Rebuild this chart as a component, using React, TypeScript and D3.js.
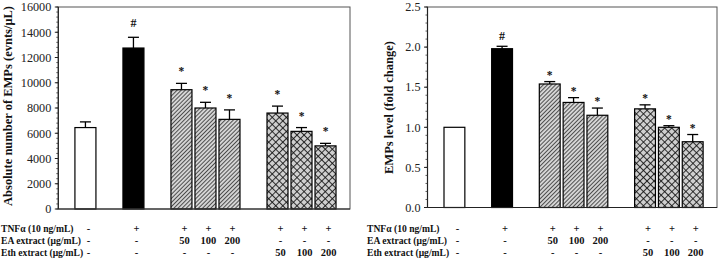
import React from 'react';
import * as d3 from 'd3';

const groupSizes = [1, 1, 3, 3];
const countValues = [6450, 12750, 9450, 8000, 7100, 7600, 6150, 5000];
const countErrors = [450, 850, 500, 450, 750, 550, 300, 200];
const foldValues = [1.0, 1.98, 1.54, 1.31, 1.15, 1.23, 1.0, 0.82];
const foldErrors = [0, 0.03, 0.03, 0.06, 0.09, 0.05, 0.02, 0.09];
const marks = ['', '#', '*', '*', '*', '*', '*', '*'];
const fills = ['white', 'black', 'hatch', 'hatch', 'hatch', 'cross', 'cross', 'cross'];
const rowLabels = ['TNFα (10 ng/mL)', 'EA extract (μg/mL)', 'Eth extract (μg/mL)'];
const tnfRow = ['-', '+', '+', '+', '+', '+', '+', '+'];
const eaRow = ['-', '-', '50', '100', '200', '-', '-', '-'];
const ethRow = ['-', '-', '-', '-', '-', '50', '100', '200'];
const countTicks = [0, 2000, 4000, 6000, 8000, 10000, 12000, 14000, 16000];
const foldTicks = [0, 0.5, 1.0, 1.5, 2.0, 2.5];

// slot positions: bars in a group are adjacent, one empty slot between groups
const slots: number[] = [];
{
  let s = 0;
  groupSizes.forEach((g) => {
    for (let i = 0; i < g; i++) slots.push(s++);
    s++;
  });
}

const SERIF = '"Liberation Serif", "Times New Roman", serif';

function fillFor(f: string) {
  if (f === 'hatch') return `url(#hatch)`;
  if (f === 'cross') return `url(#cross)`;
  return f;
}

type PanelProps = {
  values: number[];
  errors: number[];
  ticks: number[];
  minorStep: number;
  fmt: (v: number) => string;
  xRange: [number, number];
  yRange: [number, number];
  title: string;
  titleX: number;
  titleY: number;
  tableX: number;
  starOff: number;
  hashOff: number;
};

function Panel(p: PanelProps) {
  const yMax = p.ticks[p.ticks.length - 1];
  const x = d3.scaleLinear().domain([-1.13, 11.02]).range(p.xRange);
  const y = d3.scaleLinear().domain([0, yMax]).range(p.yRange);
  const bw = x(0.875) - x(0);
  const minor = d3.range(0, yMax + p.minorStep / 2, p.minorStep);
  const [x0, x1] = p.xRange;
  const [yb, yt] = p.yRange;
  const rows = [tnfRow, eaRow, ethRow];
  const rowY = [231.5, 243.5, 255.5];
  return (
    <g>
      {p.values.map((v, i) => {
        const cx = x(slots[i]);
        const e = p.errors[i];
        const topY = y(v + e);
        const isHash = marks[i] === '#';
        return (
          <g key={i}>
            {e > 0 && (
              <g stroke="#000" strokeWidth={1.3}>
                <line x1={cx} x2={cx} y1={y(v)} y2={topY} />
                <line x1={cx - 5.5} x2={cx + 5.5} y1={topY} y2={topY} />
              </g>
            )}
            <rect
              x={cx - bw / 2}
              y={y(v)}
              width={bw}
              height={y(0) - y(v)}
              fill={fillFor(fills[i])}
              stroke="#000"
              strokeWidth={1.2}
            />
            {marks[i] && (
              <text
                x={cx}
                y={topY - (isHash ? p.hashOff : p.starOff)}
                textAnchor="middle"
                fontFamily={SERIF}
                fontWeight="bold"
                fontSize={isHash ? 12 : 11.5}
                fill="#111"
              >
                {marks[i]}
              </text>
            )}
          </g>
        );
      })}
      <rect x={x0} y={yt} width={x1 - x0} height={yb - yt} fill="none" stroke="#555" strokeWidth={1} />
      <line x1={x0} x2={x0} y1={yt} y2={yb} stroke="#222" strokeWidth={1.2} />
      <line x1={x0} x2={x1} y1={yb} y2={yb} stroke="#222" strokeWidth={1.2} />
      {minor.map((t, i) => (
        <line key={'m' + i} x1={x0 - 2} x2={x0} y1={y(t)} y2={y(t)} stroke="#333" strokeWidth={0.8} />
      ))}
      {p.ticks.map((t, i) => (
        <g key={'t' + i}>
          <line x1={x0 - 3.5} x2={x0} y1={y(t)} y2={y(t)} stroke="#222" strokeWidth={1} />
          <text
            x={x0 - 7}
            y={y(t)}
            dy="0.35em"
            textAnchor="end"
            fontFamily={SERIF}
            fontSize={12.2}
            fill="#222"
          >
            {p.fmt(t)}
          </text>
        </g>
      ))}
      <text
        transform={`translate(${p.titleX},${p.titleY}) rotate(-90)`}
        textAnchor="middle"
        dy="0.35em"
        fontFamily={SERIF}
        fontWeight="bold"
        fontSize={12.5}
        fill="#111"
      >
        {p.title}
      </text>
      {rows.map((row, r) => (
        <g key={'r' + r} fontFamily={SERIF} fontWeight="bold" fontSize={9.6} fill="#111">
          <text x={p.tableX} y={rowY[r]}>
            {rowLabels[r]}
          </text>
          {row.map((s, i) => (
            <text key={i} x={x(slots[i]) + 3} y={rowY[r]} textAnchor="middle" fontSize={10.5}>
              {s}
            </text>
          ))}
        </g>
      ))}
    </g>
  );
}

export default function App() {
  return (
    <svg
      width={720}
      height={259}
      style={{ position: 'absolute', left: 0, top: 0, background: '#fff' }}
    >
      <defs>
        <pattern id="hatch" patternUnits="userSpaceOnUse" width={2.9} height={2.9} patternTransform="rotate(45)">
          <rect width={2.9} height={2.9} fill="#d4d4d4" />
          <line x1={0} y1={0} x2={0} y2={2.9} stroke="#111" strokeWidth={1.35} />
        </pattern>
        <pattern id="cross" patternUnits="userSpaceOnUse" width={5} height={5} patternTransform="rotate(45)">
          <rect width={5} height={5} fill="#cfcfcf" />
          <line x1={0} y1={0} x2={0} y2={5} stroke="#111" strokeWidth={1.7} />
          <line x1={0} y1={0} x2={5} y2={0} stroke="#111" strokeWidth={1.7} />
        </pattern>
      </defs>
      <rect width={720} height={259} fill="#fff" />
      <Panel
        values={countValues}
        errors={countErrors}
        ticks={countTicks}
        minorStep={400}
        fmt={(v) => String(v)}
        xRange={[58.3, 350]}
        yRange={[209, 7]}
        title="Absolute number of EMPs (evnts/μL)"
        titleX={8}
        titleY={106}
        tableX={1}
        starOff={8}
        hashOff={10}
      />
      <Panel
        values={foldValues}
        errors={foldErrors}
        ticks={foldTicks}
        minorStep={0.1}
        fmt={(v) => d3.format('.1f')(v)}
        xRange={[427.5, 717]}
        yRange={[207.5, 7]}
        title="EMPs level (fold change)"
        titleX={389}
        titleY={107.5}
        tableX={367}
        starOff={3}
        hashOff={6}
      />
    </svg>
  );
}
